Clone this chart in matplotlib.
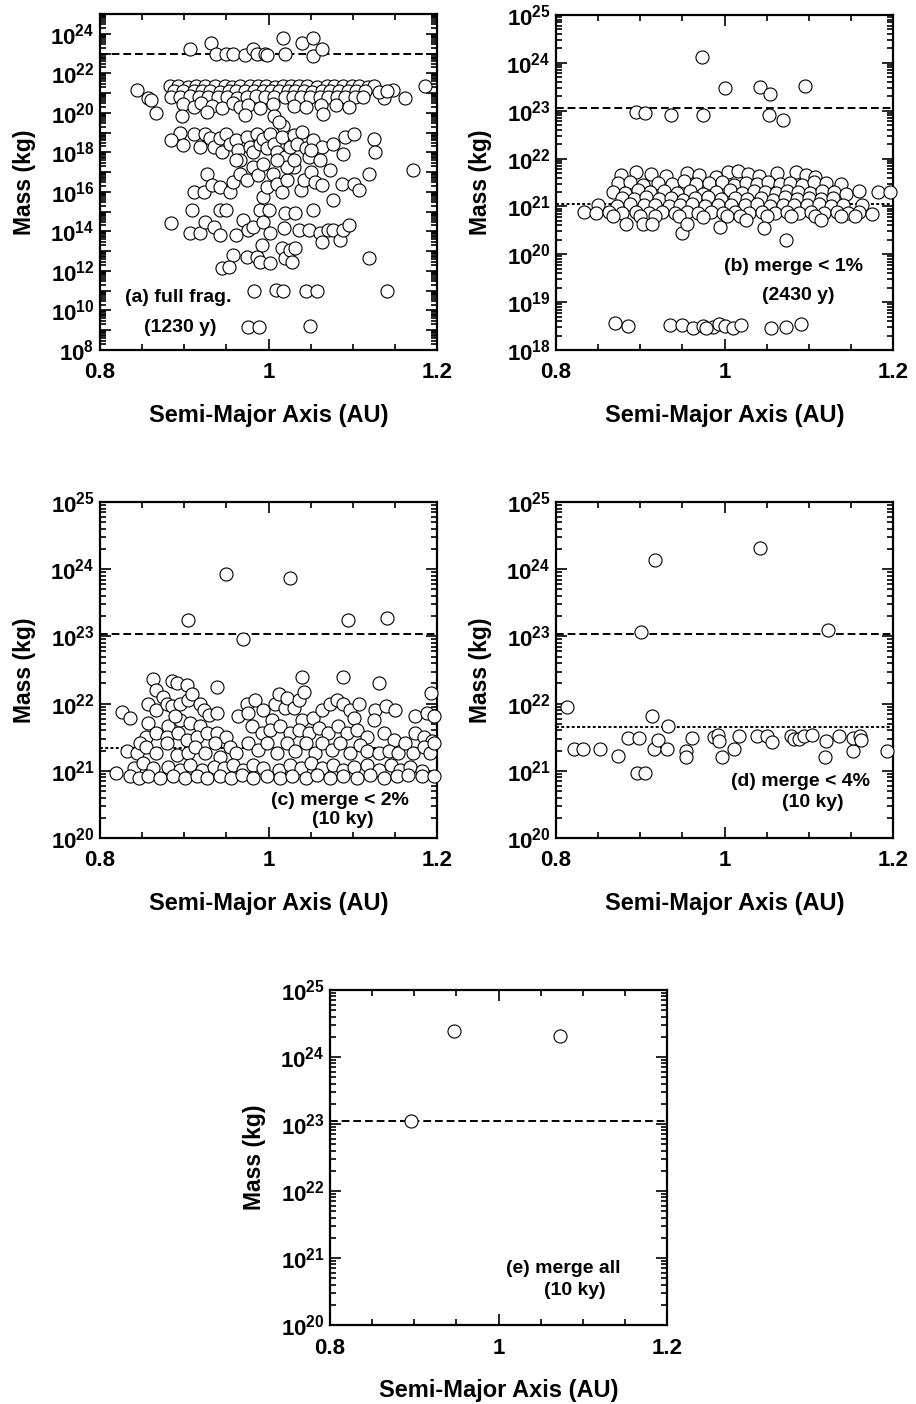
import numpy as np
import matplotlib
matplotlib.use('Agg')
import matplotlib.pyplot as plt
from matplotlib.ticker import FixedLocator, MultipleLocator, LogLocator, FuncFormatter, NullFormatter

# ----------- fonts -----------
plt.rcParams['font.family'] = ['Liberation Sans', 'DejaVu Sans']
plt.rcParams['font.weight'] = 'bold'
plt.rcParams['mathtext.fontset'] = 'custom'
plt.rcParams['mathtext.rm'] = 'Liberation Sans:bold'
plt.rcParams['mathtext.bf'] = 'Liberation Sans:bold'

# ----------- data (semi-major axis in AU, log10 of mass in kg) -----------
# (a) full fragmentation, 1230 y
a_axis = [
    0.907, 0.932, 0.938, 0.949, 0.958, 0.972, 0.982, 0.986, 0.996, 0.998, 1.017, 1.019, 1.040, 1.053, 1.053, 1.063,
    0.844, 0.857, 0.861, 0.867, 1.186, 1.162, 1.148, 1.137,
    0.883, 0.893, 0.905, 0.914, 0.925, 0.936, 0.948, 0.957, 0.966, 0.978, 0.988, 0.997, 1.008, 1.017, 1.027, 1.036,
    1.046, 1.058, 1.069, 1.078, 1.089, 1.099, 1.108, 1.118, 1.125,
    0.888, 0.899, 0.911, 0.921, 0.931, 0.943, 0.953, 0.962, 0.972, 0.983, 0.993, 1.003, 1.013, 1.023, 1.032, 1.042,
    1.052, 1.063, 1.073, 1.084, 1.094, 1.104, 1.114, 1.131, 1.141,
    0.884, 0.895, 0.907, 0.918, 0.928, 0.940, 0.951, 0.963, 0.975, 0.985, 0.996, 1.006, 1.019, 1.029, 1.039, 1.049,
    1.061, 1.071, 1.081, 1.091, 1.103, 1.112,
    0.898, 0.912, 0.920, 0.933, 0.945, 0.958, 0.966, 0.976, 0.990, 1.005, 1.030, 1.045, 1.062, 1.080, 1.095,
    0.897, 0.927, 0.972, 1.007, 1.065, 1.017, 1.012,
    0.895, 0.884, 0.899, 0.912, 0.919, 0.925, 0.931, 0.935, 0.943, 0.945, 0.950, 0.954, 0.962, 0.964, 0.966, 0.974,
    0.978, 0.982, 0.986, 0.990, 0.994, 0.998, 1.002, 1.006, 1.010, 1.016, 1.020, 1.026, 1.030, 1.034, 1.040, 1.044,
    1.048, 1.053, 1.063, 1.077, 1.089, 1.091, 1.102, 1.125, 1.126, 1.172, 0.962,
    0.927, 0.911, 0.923, 0.933, 0.943, 0.954, 0.958, 0.966, 0.974, 0.982, 0.988, 0.994, 0.998, 1.005, 1.010, 1.016,
    1.022, 1.030, 1.038, 1.042, 1.050, 1.055, 1.063, 1.073, 1.077, 1.087, 1.101, 1.107, 1.119, 1.022, 1.010, 1.030,
    1.061, 1.051, 0.994,
    0.884, 0.909, 0.907, 0.919, 0.925, 0.935, 0.943, 0.950, 0.943, 0.962, 0.970, 0.976, 0.982, 0.990, 0.994, 1.000,
    1.002, 1.018, 1.020, 1.032, 1.036, 1.048, 1.053, 1.061, 1.063, 1.071, 1.077, 1.085, 1.089, 1.095,
    0.958, 0.974, 0.986, 0.992, 0.990, 1.002, 1.016, 1.020, 1.026, 1.032, 1.028, 0.945, 0.953, 1.119,
    0.983, 1.009, 1.017, 1.045, 1.057, 1.141,
    0.976, 0.989, 1.049,
]
a_log_mass = [
    23.24, 23.53, 22.99, 23.00, 23.00, 22.94, 23.24, 23.00, 23.00, 22.95, 23.78, 22.97, 23.53, 23.78, 22.90, 23.24,
    21.17, 20.77, 20.63, 19.99, 21.34, 20.77, 21.17, 20.77,
    21.35, 21.38, 21.33, 21.36, 21.34, 21.37, 21.35, 21.32, 21.36, 21.34, 21.38, 21.35, 21.33, 21.37, 21.35, 21.34,
    21.36, 21.33, 21.38, 21.35, 21.34, 21.36, 21.35, 21.33, 21.37,
    21.10, 21.08, 21.12, 21.09, 21.11, 21.07, 21.10, 21.12, 21.08, 21.10, 21.11, 21.09, 21.12, 21.08, 21.10, 21.11,
    21.07, 21.10, 21.12, 21.09, 21.08, 21.10, 21.11, 21.06, 21.09,
    20.80, 20.78, 20.83, 20.81, 20.79, 20.82, 20.80, 20.77, 20.81, 20.83, 20.79, 20.80, 20.82, 20.78, 20.81, 20.80,
    20.79, 20.82, 20.80, 20.78, 20.81, 20.79,
    20.45, 20.30, 20.50, 20.35, 20.22, 20.48, 20.30, 20.40, 20.25, 20.45, 20.35, 20.28, 20.42, 20.38, 20.30,
    19.83, 20.04, 19.90, 19.83, 19.96, 19.32, 19.54,
    18.98, 18.61, 18.36, 18.95, 18.28, 18.95, 18.75, 18.28, 18.75, 18.02, 18.95, 18.44, 18.61, 18.11, 17.60, 18.78,
    18.28, 18.02, 18.95, 18.44, 18.70, 18.20, 18.95, 18.44, 18.02, 18.78, 17.77, 18.28, 18.86, 18.44, 19.03, 18.20,
    17.77, 18.61, 18.28, 18.44, 17.94, 18.78, 18.95, 18.70, 18.02, 17.10, 17.60,
    16.93, 16.00, 16.00, 16.34, 16.26, 16.00, 16.51, 16.93, 16.59, 17.27, 16.85, 15.75, 16.26, 16.93, 16.42, 16.00,
    16.59, 17.27, 16.09, 16.59, 17.01, 16.51, 16.34, 17.10, 15.58, 16.42, 16.42, 16.09, 16.93, 17.27, 17.60, 17.60,
    17.60, 18.10, 17.43,
    14.44, 15.08, 13.93, 13.90, 14.49, 14.24, 15.08, 15.08, 13.81, 13.81, 14.57, 14.07, 14.24, 15.08, 14.49, 15.08,
    13.90, 14.15, 14.91, 14.91, 14.07, 14.07, 15.08, 13.90, 13.48, 14.07, 14.07, 13.56, 14.07, 14.32,
    12.80, 12.72, 12.72, 13.31, 12.47, 12.38, 13.14, 12.64, 13.06, 13.14, 12.47, 12.17, 12.22, 12.64,
    11.00, 11.04, 11.00, 11.00, 11.00, 11.00,
    9.14, 9.14, 9.19,
]

# (b) merge < 1%, 2430 y
b_axis = [
    0.973, 1.000, 1.042, 1.054, 1.095, 0.895, 0.906, 0.937, 0.974, 1.053, 1.070,
    0.870, 0.885, 0.935, 0.950, 0.963, 0.974, 0.986, 0.994, 1.000, 1.010, 1.020, 1.055, 1.073, 1.091, 0.978,
    0.877, 0.895, 0.913, 0.931, 0.955, 0.970, 0.990, 1.004, 1.016, 1.028, 1.041, 1.062, 1.085, 1.097, 1.108,
    0.873, 0.888, 0.903, 0.921, 0.938, 0.952, 0.966, 0.982, 0.997, 1.011, 1.025, 1.039, 1.052, 1.066, 1.078, 1.092,
    1.106, 1.120, 1.138,
    0.868, 0.882, 0.897, 0.912, 0.928, 0.944, 0.959, 0.975, 0.990, 1.006, 1.021, 1.035, 1.048, 1.061, 1.074, 1.087,
    1.101, 1.116, 1.130, 1.144, 1.160, 1.182, 1.197,
    0.878, 0.892, 0.907, 0.922, 0.936, 0.951, 0.965, 0.981, 0.996, 1.012, 1.027, 1.043, 1.058, 1.072, 1.086, 1.100,
    1.115, 1.129,
    0.850, 0.872, 0.888, 0.905, 0.918, 0.934, 0.947, 0.962, 0.977, 0.992, 1.008, 1.024, 1.038, 1.054, 1.069, 1.083,
    1.098, 1.112, 1.126, 1.141, 1.163,
    0.833, 0.847, 0.863, 0.878, 0.895, 0.910, 0.926, 0.941, 0.956, 0.969, 0.984, 0.998, 1.013, 1.029, 1.044, 1.060,
    1.074, 1.088, 1.103, 1.118, 1.133, 1.147, 1.160, 1.175,
    0.868, 0.900, 0.917, 0.946, 0.975, 1.003, 1.018, 1.050, 1.079, 1.108, 1.138, 1.155,
    0.883, 0.903, 0.914, 0.949, 0.956, 0.995, 1.047, 1.073, 1.115, 1.026,
]
b_log_mass = [
    24.12, 23.47, 23.50, 23.34, 23.52, 22.98, 22.95, 22.92, 22.91, 22.91, 22.81,
    18.56, 18.50, 18.52, 18.52, 18.47, 18.50, 18.49, 18.54, 18.50, 18.45, 18.52, 18.45, 18.49, 18.54, 18.45,
    21.66, 21.72, 21.68, 21.64, 21.70, 21.66, 21.62, 21.71, 21.74, 21.67, 21.63, 21.69, 21.72, 21.65, 21.62,
    21.48, 21.52, 21.45, 21.50, 21.47, 21.53, 21.46, 21.49, 21.51, 21.44, 21.50, 21.47, 21.52, 21.46, 21.49, 21.45,
    21.51, 21.48, 21.46,
    21.31, 21.28, 21.34, 21.30, 21.33, 21.29, 21.32, 21.27, 21.31, 21.34, 21.29, 21.32, 21.30, 21.28, 21.33, 21.31,
    21.29, 21.32, 21.30, 21.27, 21.33, 21.31, 21.30,
    21.17, 21.15, 21.19, 21.16, 21.18, 21.14, 21.17, 21.19, 21.15, 21.18, 21.16, 21.17, 21.14, 21.19, 21.16, 21.18,
    21.15, 21.17,
    21.03, 21.01, 21.05, 21.02, 21.04, 21.00, 21.03, 21.05, 21.01, 21.04, 21.02, 21.03, 21.05, 21.01, 21.04, 21.02,
    21.03, 21.05, 21.00, 21.02, 21.04,
    20.88, 20.86, 20.89, 20.87, 20.88, 20.86, 20.89, 20.87, 20.88, 20.86, 20.89, 20.87, 20.88, 20.86, 20.89, 20.87,
    20.88, 20.86, 20.89, 20.87, 20.88, 20.86, 20.89, 20.85,
    20.80, 20.79, 20.81, 20.80, 20.78, 20.81, 20.79, 20.80, 20.81, 20.79, 20.80, 20.81,
    20.63, 20.63, 20.63, 20.44, 20.63, 20.56, 20.54, 20.30, 20.72, 20.72,
]

# (c) merge < 2%, 10 ky
c_axis = [
    0.949, 1.025, 0.905, 1.094, 1.141, 0.970, 0.939, 1.040, 1.088, 1.131, 1.193, 0.826, 0.836, 0.819,
    0.863, 0.867, 0.875, 0.886, 0.891, 0.903, 0.857, 0.867, 0.857, 0.879, 0.885, 0.895, 0.905, 0.909, 0.919, 0.923,
    0.881, 0.895, 0.889, 0.907, 0.919, 0.929, 0.939,
    0.855, 0.867, 0.879, 0.893, 0.903, 0.915, 0.927, 0.939, 0.950,
    0.832, 0.844, 0.848, 0.855, 0.867, 0.879, 0.891, 0.905, 0.913, 0.925, 0.937, 0.943, 0.954, 0.962,
    0.964, 0.974, 0.984, 0.976, 0.994, 1.004, 1.008, 1.012, 1.020, 1.022, 1.030, 1.036, 1.042, 1.040, 1.053, 1.063,
    1.073, 1.081, 1.089, 1.097, 1.107, 1.101,
    0.980, 0.992, 1.002, 1.014, 1.026, 1.036, 1.048, 1.060, 1.071, 1.083, 1.093, 1.105, 1.117,
    0.976, 0.988, 0.998, 1.010, 1.022, 1.032, 1.044, 1.055, 1.063, 1.075, 1.085, 1.097, 1.109, 1.117,
    1.127, 1.139, 1.150, 1.125, 1.174, 1.188, 1.196, 1.137, 1.149, 1.174, 1.184, 1.194,
    1.131, 1.143, 1.154, 1.162, 1.172, 1.184, 1.192, 1.196,
    0.840, 0.851, 0.863, 0.881, 0.895, 0.907, 0.921, 0.935, 0.947, 0.958, 0.970, 0.982, 0.994, 1.012, 1.026, 1.038,
    1.051, 1.063, 1.077, 1.089, 1.101, 1.117, 1.131, 1.145, 1.156, 1.168, 1.182,
    0.836, 0.846, 0.857, 0.871, 0.887, 0.901, 0.915, 0.927, 0.943, 0.956, 0.968, 0.982, 0.998, 1.014, 1.028, 1.044,
    1.057, 1.073, 1.089, 1.105, 1.121, 1.137, 1.152, 1.166, 1.182, 1.196,
]
c_log_mass = [
    23.93, 23.87, 23.24, 23.24, 23.27, 22.96, 22.25, 22.40, 22.40, 22.30, 22.16, 21.87, 21.78, 20.97,
    22.36, 22.20, 22.10, 22.34, 22.30, 22.28, 22.00, 21.91, 21.71, 22.00, 21.96, 22.00, 22.05, 22.15, 22.00, 21.91,
    21.66, 21.76, 21.81, 21.71, 21.66, 21.83, 21.86,
    21.51, 21.56, 21.51, 21.56, 21.46, 21.51, 21.56, 21.56, 21.51,
    21.29, 21.26, 21.41, 21.36, 21.26, 21.41, 21.24, 21.26, 21.36, 21.26, 21.41, 21.21, 21.36, 21.26,
    21.81, 22.00, 22.05, 21.86, 21.91, 21.76, 22.00, 22.15, 21.93, 22.08, 21.93, 22.05, 22.18, 21.76, 21.78, 21.91,
    22.00, 22.05, 22.00, 21.91, 22.00, 21.78,
    21.66, 21.56, 21.61, 21.66, 21.56, 21.61, 21.56, 21.63, 21.56, 21.66, 21.56, 21.61, 21.51,
    21.41, 21.31, 21.41, 21.26, 21.41, 21.29, 21.41, 21.26, 21.41, 21.31, 21.41, 21.26, 21.39, 21.29,
    21.91, 21.96, 21.91, 21.76, 21.81, 21.86, 21.81, 21.56, 21.46, 21.56, 21.51, 21.44,
    21.26, 21.29, 21.26, 21.41, 21.26, 21.36, 21.26, 21.41,
    21.04, 21.11, 21.04, 21.06, 21.01, 21.09, 21.01, 21.06, 21.04, 21.09, 21.01, 21.09, 21.04, 21.01, 21.09, 21.04,
    21.11, 21.04, 21.09, 21.01, 21.06, 21.09, 21.01, 21.09, 21.01, 21.06, 20.99,
    20.92, 20.89, 20.92, 20.89, 20.92, 20.89, 20.92, 20.89, 20.92, 20.89, 20.94, 20.89, 20.92, 20.89, 20.92, 20.89,
    20.94, 20.89, 20.92, 20.89, 20.94, 20.89, 20.92, 20.94, 20.92, 20.92,
]

# (d) merge < 4%, 10 ky
d_axis = [
    0.917, 1.042, 0.901, 1.123, 0.813, 0.914, 0.933, 0.821, 0.832, 0.852, 0.874, 0.886, 0.898, 0.896, 0.906, 0.916,
    0.921, 0.932, 0.954, 0.954, 0.962, 0.988, 0.992, 0.994, 0.997, 1.011, 1.017, 1.038, 1.051, 1.056, 1.079, 1.083,
    1.089, 1.094, 1.104, 1.119, 1.120, 1.136, 1.152, 1.152, 1.161, 1.162, 1.193,
]
d_log_mass = [
    24.13, 24.32, 23.07, 23.09, 21.95, 21.81, 21.67, 21.33, 21.33, 21.33, 21.22, 21.49, 21.49, 20.96, 20.96, 21.33,
    21.46, 21.33, 21.29, 21.21, 21.49, 21.51, 21.53, 21.45, 21.21, 21.33, 21.52, 21.52, 21.52, 21.43, 21.52, 21.47,
    21.47, 21.52, 21.53, 21.21, 21.45, 21.52, 21.29, 21.49, 21.52, 21.46, 21.29,
]

# (e) merge all, 10 ky
e_axis = [0.947, 1.073, 0.896]
e_log_mass = [24.39, 24.32, 23.05]

# reference masses drawn as horizontal lines
dashed_mass = [1.0e23, 1.12e23, 1.07e23, 1.07e23, 1.12e23]
dotted_mass = [None, 1.15e21, 2.2e21, 4.5e21, None]

panel_labels = [
    ('(a) full frag.', '(1230 y)'),
    ('(b) merge < 1%', '(2430 y)'),
    ('(c) merge < 2%', '(10 ky)'),
    ('(d) merge < 4%', '(10 ky)'),
    ('(e) merge all', '(10 ky)'),
]
y_limits = [(1e8, 1e25), (1e18, 1e25), (1e20, 1e25), (1e20, 1e25), (1e20, 1e25)]

# ----------- layout (figure fractions) -----------
W, H = 916, 1404
boxes = [
    (100, 14, 337, 336),
    (556, 15, 337, 335),
    (100, 502, 337, 336),
    (556, 502, 337, 336),
    (330, 990, 337, 335),
]
# text anchor positions in axes coords: (x1, y1, x2, y2), left aligned
text_pos = [
    (0.075, 0.155, 0.132, 0.068),
    (0.500, 0.248, 0.612, 0.164),
    (0.508, 0.113, 0.628, 0.055),
    (0.518, 0.167, 0.670, 0.107),
    (0.522, 0.170, 0.634, 0.104),
]


def exp_label(val, pos, step):
    e = int(round(np.log10(val)))
    if e % step != 0:
        return ''
    return r'$\mathregular{10^{%d}}$' % e


def style_axes(ax, ylim, step):
    ax.set_yscale('log')
    ax.set_xlim(0.8, 1.2)
    ax.set_ylim(*ylim)
    ax.xaxis.set_major_locator(FixedLocator([0.8, 1.0, 1.2]))
    ax.xaxis.set_minor_locator(MultipleLocator(0.05))
    ax.set_xticklabels(['0.8', '1', '1.2'])
    ax.yaxis.set_major_locator(LogLocator(base=10, numticks=30))
    ax.yaxis.set_minor_locator(LogLocator(base=10, subs=np.arange(2, 10), numticks=30))
    ax.yaxis.set_major_formatter(FuncFormatter(lambda v, p: exp_label(v, p, step)))
    ax.yaxis.set_minor_formatter(NullFormatter())
    ax.tick_params(which='both', direction='in', top=True, right=True, width=1.2)
    ax.tick_params(which='major', length=8, labelsize=16)
    ax.tick_params(axis='x', which='major', pad=9)
    ax.tick_params(axis='y', which='major', pad=4)
    ax.tick_params(which='minor', length=4)
    for s in ax.spines.values():
        s.set_linewidth(1.6)
    ax.set_xlabel('Semi-Major Axis (AU)', fontsize=17, fontweight='bold')
    ax.set_ylabel('Mass (kg)', fontsize=16.5, fontweight='bold')
    ax.xaxis.set_label_coords(0.5, -0.16)
    ax.yaxis.set_label_coords(-0.19, 0.5)


fig = plt.figure(figsize=(W / 100, H / 100), dpi=100)

all_axis = [a_axis, b_axis, c_axis, d_axis, e_axis]
all_logm = [a_log_mass, b_log_mass, c_log_mass, d_log_mass, e_log_mass]

for i in range(5):
    left, top, w, h = boxes[i]
    ax = fig.add_axes([left / W, 1 - (top + h) / H, w / W, h / H])
    style_axes(ax, y_limits[i], 2 if i == 0 else 1)

    ax.axhline(dashed_mass[i], color='black', lw=1.4, linestyle=(0, (4, 2)), zorder=1)
    if dotted_mass[i] is not None:
        ax.axhline(dotted_mass[i], color='black', lw=1.4, linestyle=(0, (1.5, 1.2)), zorder=1)

    mass = 10.0 ** np.array(all_logm[i])
    ax.plot(all_axis[i], mass, 'o', ms=9.4, mfc='white', mec='black', mew=0.8,
            linestyle='none', zorder=3, clip_on=False)

    t1, t2 = panel_labels[i]
    x1, y1, x2, y2 = text_pos[i]
    ax.text(x1, y1, t1, transform=ax.transAxes, fontsize=14, fontweight='bold', va='center', ha='left')
    ax.text(x2, y2, t2, transform=ax.transAxes, fontsize=14, fontweight='bold', va='center', ha='left')

fig.savefig('out.png', dpi=100)
